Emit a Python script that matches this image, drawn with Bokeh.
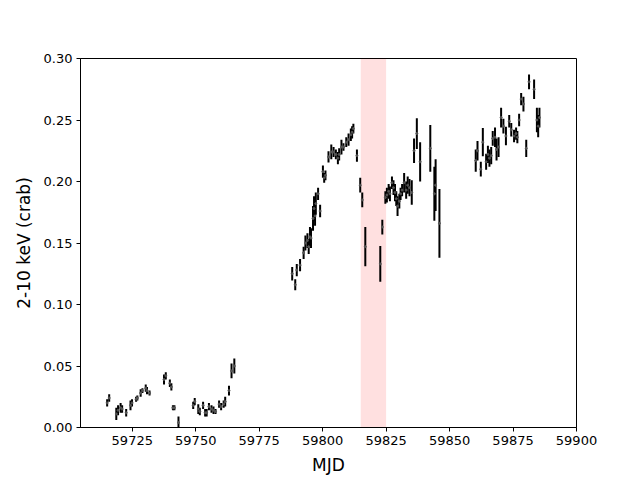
from bokeh.plotting import figure
from bokeh.models import ColumnDataSource, BoxAnnotation, FixedTicker, PrintfTickFormatter, Range1d
from bokeh.embed import file_html
from bokeh.resources import INLINE

# Epoch 1: low state
mjd1 = [59715.1, 59715.9, 59718.7, 59719.4, 59720.4, 59721.0, 59722.6, 59724.3, 59724.9, 59726.5,
        59727.0, 59728.3, 59729.0, 59730.3, 59730.8, 59731.8, 59737.5, 59738.2, 59739.8, 59740.4,
        59741.0, 59741.6, 59743.2, 59749.0, 59749.6, 59751.0, 59751.6, 59752.9, 59753.7, 59754.3,
        59755.2, 59756.2, 59757.0, 59757.8, 59759.2, 59760.0, 59761.0, 59761.6, 59763.1, 59764.1,
        59765.2]
rate1 = [0.020, 0.024, 0.011, 0.014, 0.016, 0.015, 0.012, 0.018, 0.020, 0.023,
         0.024, 0.028, 0.030, 0.032, 0.030, 0.028, 0.039, 0.042, 0.036, 0.033,
         0.016, 0.016, 0.004, 0.018, 0.021, 0.015, 0.013, 0.018, 0.012, 0.012,
         0.017, 0.015, 0.014, 0.013, 0.019, 0.017, 0.019, 0.021, 0.030, 0.046,
         0.050]
err1 = [0.003, 0.003, 0.005, 0.004, 0.004, 0.003, 0.003, 0.004, 0.003, 0.002,
        0.002, 0.003, 0.002, 0.003, 0.003, 0.002, 0.004, 0.003, 0.003, 0.003,
        0.002, 0.002, 0.005, 0.003, 0.003, 0.004, 0.003, 0.003, 0.003, 0.003,
        0.003, 0.003, 0.003, 0.002, 0.003, 0.003, 0.003, 0.004, 0.004, 0.006,
        0.006]

# Epoch 2: rise
mjd2 = [59788.0, 59789.2, 59789.8, 59791.1, 59792.5, 59793.2, 59794.0, 59794.5, 59795.0, 59795.4,
        59796.2, 59796.6, 59797.0, 59797.3, 59798.2, 59799.0, 59800.1, 59800.6, 59801.1, 59802.3,
        59803.4, 59804.3, 59805.2, 59806.0, 59806.5, 59807.4, 59808.2, 59809.3, 59810.2, 59811.1,
        59811.6, 59812.1, 59813.5]
rate2 = [0.125, 0.116, 0.128, 0.132, 0.142, 0.150, 0.152, 0.147, 0.155, 0.154,
         0.170, 0.178, 0.172, 0.182, 0.190, 0.176, 0.208, 0.203, 0.205, 0.220,
         0.224, 0.224, 0.222, 0.219, 0.222, 0.228, 0.228, 0.232, 0.234, 0.238,
         0.240, 0.243, 0.221]
err2 = [0.0055, 0.0045, 0.005, 0.005, 0.005, 0.006, 0.006, 0.006, 0.008, 0.008,
        0.010, 0.010, 0.008, 0.009, 0.005, 0.005, 0.005, 0.004, 0.004, 0.0045,
        0.006, 0.004, 0.004, 0.005, 0.005, 0.006, 0.003, 0.004, 0.005, 0.005,
        0.005, 0.004, 0.005]

# Epoch 3: dip and recovery
mjd3 = [59814.8, 59815.6, 59816.8, 59822.7, 59823.5, 59824.7, 59825.3, 59826.0, 59826.5, 59827.3,
        59827.9, 59828.5, 59829.0, 59829.5, 59830.2, 59830.7, 59831.3, 59832.1, 59832.9, 59833.5,
        59834.2, 59835.1, 59836.0, 59837.1, 59838.4, 59842.4, 59844.0, 59844.5, 59846.0]
rate3 = [0.197, 0.185, 0.147, 0.133, 0.163, 0.187, 0.189, 0.192, 0.190, 0.199,
         0.195, 0.191, 0.186, 0.180, 0.184, 0.190, 0.193, 0.199, 0.193, 0.197,
         0.195, 0.191, 0.225, 0.239, 0.216, 0.227, 0.190, 0.197, 0.166]
err3 = [0.006, 0.006, 0.016, 0.0145, 0.006, 0.005, 0.006, 0.006, 0.006, 0.005,
        0.006, 0.007, 0.006, 0.008, 0.006, 0.005, 0.005, 0.008, 0.007, 0.007,
        0.007, 0.010, 0.010, 0.0125, 0.016, 0.019, 0.022, 0.021, 0.028]

# Epoch 4: late high state
mjd4 = [59860.3, 59861.0, 59862.3, 59863.1, 59864.4, 59865.1, 59865.7, 59866.4, 59867.0, 59867.9,
        59868.5, 59869.3, 59870.3, 59871.2, 59872.2, 59873.5, 59874.3, 59875.4, 59876.2, 59876.7,
        59877.4, 59878.2, 59879.1, 59880.2, 59881.3, 59883.3, 59884.4, 59884.9, 59885.4]
rate4 = [0.217, 0.225, 0.210, 0.232, 0.216, 0.222, 0.219, 0.221, 0.235, 0.236,
         0.226, 0.228, 0.252, 0.245, 0.237, 0.249, 0.242, 0.237, 0.239, 0.236,
         0.250, 0.267, 0.263, 0.227, 0.281, 0.275, 0.250, 0.245, 0.252]
err4 = [0.009, 0.008, 0.006, 0.0115, 0.0065, 0.007, 0.007, 0.007, 0.006, 0.008,
        0.009, 0.008, 0.008, 0.006, 0.0075, 0.005, 0.0055, 0.005, 0.005, 0.005,
        0.005, 0.005, 0.006, 0.007, 0.006, 0.008, 0.010, 0.009, 0.008]

span_start, span_end = 59815, 59825
x_ticks = [59725, 59750, 59775, 59800, 59825, 59850, 59875, 59900]
y_ticks = [0.00, 0.05, 0.10, 0.15, 0.20, 0.25, 0.30]

mjd = mjd1 + mjd2 + mjd3 + mjd4
rate = rate1 + rate2 + rate3 + rate4
err = err1 + err2 + err3 + err4

src = ColumnDataSource(dict(
    x=mjd, y=rate,
    lo=[r - e for r, e in zip(rate, err)],
    hi=[r + e for r, e in zip(rate, err)],
))

p = figure(width=640, height=480, output_backend="svg", toolbar_location=None,
           x_range=Range1d(59704.6, 59900), y_range=Range1d(0, 0.30),
           min_border_left=80, min_border_right=64, min_border_top=58, min_border_bottom=53)
p.background_fill_color = "white"
p.border_fill_color = "white"
p.outline_line_color = "black"
p.outline_line_width = 1
p.xgrid.visible = False
p.ygrid.visible = False

band = BoxAnnotation(left=span_start, right=span_end, fill_color="red", fill_alpha=0.12,
                     line_alpha=0, level="underlay")
p.add_layout(band)

p.segment(x0="x", y0="lo", x1="x", y1="hi", source=src, line_color="black", line_width=2)
p.scatter(x="x", y="y", source=src, size=2, color="#555555", marker="circle")

for ax in (p.xaxis[0], p.yaxis[0]):
    ax.major_label_text_font = "DejaVu Sans"
    ax.major_label_text_font_size = "13px"
    ax.major_label_text_color = "black"
    ax.axis_label_text_font = "DejaVu Sans"
    ax.axis_label_text_font_size = "17px"
    ax.axis_label_text_font_style = "normal"
    ax.axis_label_text_color = "black"
    ax.minor_tick_line_color = None
    ax.major_tick_out = 4
    ax.major_tick_in = 0
    ax.major_label_standoff = 4
    ax.axis_line_color = "black"

p.xaxis.ticker = FixedTicker(ticks=x_ticks)
p.xaxis.formatter = PrintfTickFormatter(format="%d")
p.yaxis.ticker = FixedTicker(ticks=y_ticks)
p.yaxis.formatter = PrintfTickFormatter(format="%.2f")
p.xaxis.axis_label = "MJD"
p.yaxis.axis_label = "2-10 keV (crab)"
p.xaxis.axis_label_standoff = 7
p.yaxis.axis_label_standoff = 7

open("out.html", "w").write(file_html(p, INLINE))
